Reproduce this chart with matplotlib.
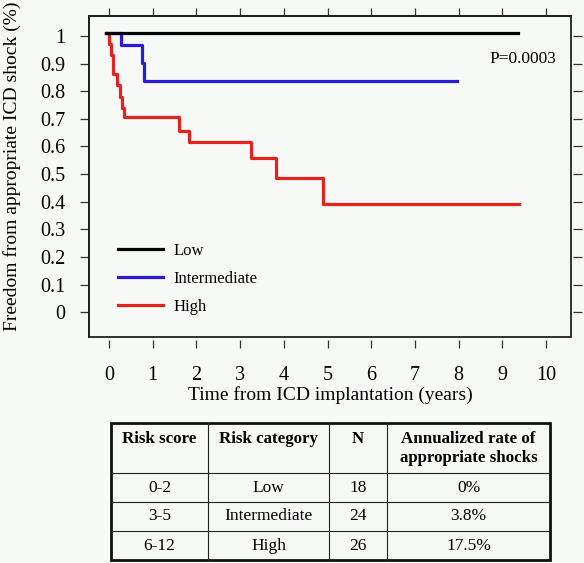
import matplotlib
matplotlib.use("Agg")
import matplotlib.pyplot as plt
from matplotlib.patches import Rectangle
from matplotlib.transforms import ScaledTranslation

plt.rcParams['font.family'] = ['Liberation Serif', 'DejaVu Serif']

# ---- data ----
low_t = [-0.08, 9.36]
low_s = [1.0, 1.0]
int_t = [-0.08, 0.27, 0.75, 0.81, 7.96]
int_s = [1.0, 0.955, 0.89, 0.825, 0.825]
high_t = [-0.08, -0.01, 0.05, 0.08, 0.19, 0.25, 0.30, 0.34, 1.61, 1.83, 3.24, 3.81, 4.89, 9.38]
high_s = [1.0, 0.962, 0.92, 0.85, 0.81, 0.77, 0.73, 0.695, 0.645, 0.606, 0.548, 0.474, 0.379, 0.379]
series_labels = ["Low", "Intermediate", "High"]
p_text = "P=0.0003"
x_ticks = list(range(0, 11))
y_ticks = [0, 0.1, 0.2, 0.3, 0.4, 0.5, 0.6, 0.7, 0.8, 0.9, 1.0]
y_ticklabels = ["0", "0.1", "0.2", "0.3", "0.4", "0.5", "0.6", "0.7", "0.8", "0.9", "1"]

table_header = ["Risk score", "Risk category", "N", "Annualized rate of\nappropriate shocks"]
risk_score = ["0-2", "3-5", "6-12"]
risk_category = ["Low", "Intermediate", "High"]
n_patients = ["18", "24", "26"]
annual_rate = ["0%", "3.8%", "17.5%"]

# ---- figure ----
W, H = 584, 563
bg = '#f7f9f7'
fig = plt.figure(figsize=(W / 100, H / 100), dpi=100, facecolor=bg)

ax = fig.add_axes([89 / W, 1 - 337 / H, (571 - 89) / W, (337 - 16) / H])
ax.set_facecolor(bg)

colors = {"Low": "#000000", "Intermediate": "#2a1bd6", "High": "#e3231c"}
lw = 2.3
h_high, = ax.plot(high_t, high_s, drawstyle='steps-post', color=colors["High"], lw=lw, zorder=3)
h_int, = ax.plot(int_t, int_s, drawstyle='steps-post', color=colors["Intermediate"], lw=lw, zorder=4)
h_low, = ax.plot(low_t, low_s, drawstyle='steps-post', color=colors["Low"], lw=lw, zorder=5)

ax.set_xlim(-0.458, 10.57)
ax.set_ylim(-0.101, 1.0616)

# in the reference the y ticks sit slightly below the curve levels
tick_shift = 0.011
ax.set_xticks(x_ticks)
ax.set_yticks([v - tick_shift for v in y_ticks])
ax.set_yticklabels(y_ticklabels)
for lab in ax.get_yticklabels():
    lab.set_transform(lab.get_transform() + ScaledTranslation(0, -3 / 100, fig.dpi_scale_trans))

# spines: bottom and right ticks are detached from the frame
for s in ['bottom', 'right']:
    ax.spines[s].set_visible(False)
ax.spines['bottom'].set_position(('outward', 2.2))
ax.spines['right'].set_position(('outward', 1.5))
for s in ['left', 'top']:
    ax.spines[s].set_linewidth(1.3)
ax.add_patch(Rectangle((0, 0), 1, 1, transform=ax.transAxes, fill=False,
                       edgecolor='#222222', lw=1.3, clip_on=False, zorder=10))

ax.tick_params(axis='x', which='both', bottom=True, top=True, direction='out',
               length=5.8, width=0.9, color='#333333', labelsize=14.5, pad=13,
               labelbottom=True, labeltop=False)
ax.tick_params(axis='y', which='both', left=True, right=True, direction='out',
               length=6.8, width=0.9, color='#333333', labelsize=14.5, pad=10,
               labelleft=True, labelright=False)

ax.set_xlabel("Time from ICD implantation (years)", fontsize=14, labelpad=1)
ax.set_ylabel("Freedom from appropriate ICD shock (%)", fontsize=14)
ax.yaxis.set_label_coords(-0.141, 0.533)

ax.text(0.97, 0.865, p_text, transform=ax.transAxes, ha='right', va='center', fontsize=12.5)

leg = ax.legend([h_low, h_int, h_high], series_labels, loc='upper left',
                bbox_to_anchor=(0.06, 0.293), frameon=False, fontsize=12,
                handlelength=2.7, handletextpad=0.65, labelspacing=0.72,
                borderpad=0, borderaxespad=0)

# ---- table ----
tax = fig.add_axes([0, 0, 1, 1])
tax.set_xlim(0, W)
tax.set_ylim(H, 0)
tax.axis('off')
tax.patch.set_alpha(0)

x_edges = [111, 208, 329, 387, 550]
y_edges = [423, 473, 502, 531, 560]
for xe in x_edges[1:-1]:
    tax.plot([xe, xe], [y_edges[0], y_edges[-1]], color='#222222', lw=0.8)
for ye in y_edges[1:-1]:
    tax.plot([x_edges[0], x_edges[-1]], [ye, ye], color='#222222', lw=0.8)
tax.add_patch(Rectangle((x_edges[0], y_edges[0]), x_edges[-1] - x_edges[0],
                        y_edges[-1] - y_edges[0], fill=False, edgecolor='#111111', lw=2.0))

col_c = [(x_edges[i] + x_edges[i + 1]) / 2 for i in range(4)]
for i, htxt in enumerate(table_header):
    tax.text(col_c[i], y_edges[0] + 8, htxt, ha='center', va='top', fontsize=12.2,
             fontweight='bold', linespacing=1.25)

rows = list(zip(risk_score, risk_category, n_patients, annual_rate))
for r, row in enumerate(rows):
    yc = (y_edges[r + 1] + y_edges[r + 2]) / 2
    for i, cell in enumerate(row):
        tax.text(col_c[i], yc, cell, ha='center', va='center', fontsize=12.5)

fig.savefig("out.png", dpi=100, facecolor=bg)
